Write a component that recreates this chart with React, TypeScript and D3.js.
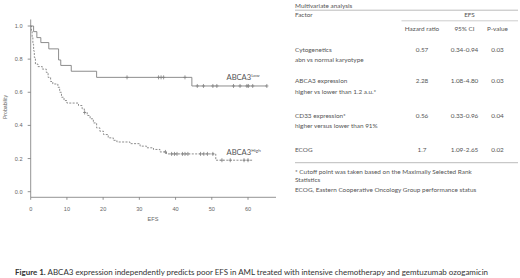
import React from "react";
import * as d3 from "d3";

// Kaplan-Meier steps (time, survival)
const lowTimes = [0, 0.8, 1.7, 2.8, 5.0, 7.7, 8.3, 11.2, 18.2, 44.5];
const lowSurv = [1.0, 0.966, 0.93, 0.9, 0.862, 0.795, 0.762, 0.727, 0.69, 0.638];
const lowEnd = 65.2;
const lowCensor = [26.6, 35.3, 36.0, 36.7, 42.6, 46.0, 47.7, 50.3, 51.4, 56.0, 57.8, 59.7, 60.1, 61.3, 65.2];

const highTimes = [0, 0.2, 0.4, 0.6, 0.8, 1.0, 1.3, 2.0, 3.2, 4.3, 4.8, 5.5, 6.1, 7.5, 8.0, 8.5, 9.2, 10.0, 13.2, 14.2, 14.8, 15.6, 16.4, 17.3, 18.2, 19.1, 20.1, 21.4, 22.8, 23.8, 27.4, 30.2, 32.0, 33.9, 35.7, 37.5, 51.1];
const highSurv = [1.0, 0.97, 0.93, 0.89, 0.85, 0.81, 0.77, 0.755, 0.74, 0.72, 0.69, 0.665, 0.65, 0.63, 0.6, 0.57, 0.55, 0.535, 0.52, 0.5, 0.478, 0.46, 0.44, 0.415, 0.385, 0.365, 0.345, 0.325, 0.31, 0.3, 0.29, 0.275, 0.265, 0.255, 0.24, 0.228, 0.19];
const highEnd = 61.2;
const highCensor = [14.9, 37.2, 38.9, 39.7, 40.4, 41.9, 42.6, 43.4, 46.9, 47.8, 48.8, 50.3, 52.8, 55.1, 58.9, 60.0];

const xTicks = [0, 10, 20, 30, 40, 50, 60];
const yTicks = [0, 0.2, 0.4, 0.6, 0.8, 1.0];

// Table
const tableTitle = "Multivariate analysis";
const factorNames = ["Cytogenetics", "ABCA3 expression", "CD33 expression*", "ECOG"];
const factorDetails = ["abn vs normal karyotype", "higher vs lower than 1.2 a.u.*", "higher versus lower than 91%", ""];
const hazardRatios = ["0.57", "2.28", "0.56", "1.7"];
const cis = ["0.34-0.94", "1.08-4.80", "0.33-0.96", "1.09-2.65"];
const pValues = ["0.03", "0.03", "0.04", "0.02"];
const footnotes = [
  "* Cutoff point was taken based on the Maximally Selected Rank",
  "Statistics",
  "ECOG, Eastern Cooperative Oncology Group performance status",
];
const captionBold = "Figure 1.";
const captionText = " ABCA3 expression independently predicts poor EFS in AML treated with intensive chemotherapy and gemtuzumab ozogamicin";

function survAt(times: number[], surv: number[], t: number) {
  let s = surv[0];
  for (let i = 0; i < times.length; i++) if (times[i] <= t) s = surv[i];
  return s;
}

export default function App() {
  const x = d3.scaleLinear().domain([0, 60]).range([30.7, 248]);
  const y = d3.scaleLinear().domain([0, 1]).range([191.7, 26]);
  const line = d3
    .line<[number, number]>()
    .x((d) => x(d[0]))
    .y((d) => y(d[1]))
    .curve(d3.curveStepAfter);

  const lowPts: [number, number][] = lowTimes.map((t, i) => [t, lowSurv[i]]);
  lowPts.push([lowEnd, lowSurv[lowSurv.length - 1]]);
  const highPts: [number, number][] = highTimes.map((t, i) => [t, highSurv[i]]);
  highPts.push([highEnd, highSurv[highSurv.length - 1]]);

  const axisColor = "#777";
  const curveColor = "#808080";
  const chartFont = "'Liberation Sans', Arial, sans-serif";
  const tableFont = "Lato, 'Open Sans', sans-serif";
  const textColor = "#555";

  const censorMark = (cx: number, cy: number, k: string, dash?: boolean) => (
    <g key={k} stroke={curveColor} strokeWidth={0.8}>
      <line x1={cx} x2={cx} y1={cy - 2} y2={cy + 2} />
      <line x1={cx - 1.6} x2={cx + 1.6} y1={cy} y2={cy} />
    </g>
  );

  const axisY = 197.3;
  const groupY = [49.5, 81, 115.5, 149.3];
  const colHR = 422;
  const colCI = 464.5;
  const colP = 497.5;

  return (
    <svg
      width={520}
      height={278}
      style={{ position: "absolute", left: 0, top: 0, background: "#fff" }}
    >
      <rect width={520} height={278} fill="#fff" />
      {/* axes */}
      <g stroke={axisColor} strokeWidth={0.8} fill="none">
        <line x1={x(0)} x2={x(0)} y1={19.5} y2={axisY} />
        <line x1={x(0)} x2={276} y1={axisY} y2={axisY} />
        {yTicks.map((t) => (
          <line key={"yt" + t} x1={x(0) - 3} x2={x(0)} y1={y(t)} y2={y(t)} />
        ))}
        {xTicks.map((t) => (
          <line key={"xt" + t} x1={x(t)} x2={x(t)} y1={axisY} y2={axisY + 2.5} />
        ))}
      </g>
      <g fill="#666" fontFamily={chartFont} fontSize={5.6}>
        {yTicks.map((t) => (
          <text key={"yl" + t} x={22.5} y={y(t)} dy="0.35em" textAnchor="end">
            {t.toFixed(1)}
          </text>
        ))}
        {xTicks.map((t) => (
          <text key={"xl" + t} x={x(t)} y={210.5} textAnchor="middle">
            {t}
          </text>
        ))}
        <text x={153} y={221} textAnchor="middle">EFS</text>
        <text
          transform={`translate(6.5,107) rotate(-90)`}
          textAnchor="middle"
          fontSize={5.2}
        >
          Probability
        </text>
      </g>

      {/* curves */}
      <path d={line(lowPts) || ""} fill="none" stroke={curveColor} strokeWidth={0.9} />
      <path
        d={line(highPts) || ""}
        fill="none"
        stroke={curveColor}
        strokeWidth={0.9}
        strokeDasharray="2,1.4"
      />
      {lowCensor.map((t, i) => censorMark(x(t), y(survAt(lowTimes, lowSurv, t)), "lc" + i))}
      {highCensor.map((t, i) => censorMark(x(t), y(survAt(highTimes, highSurv, t)), "hc" + i))}

      {/* curve labels */}
      <g fill="#555" fontFamily={tableFont} fontSize={7.6}>
        <text x={226.5} y={79.8}>
          ABCA3<tspan fontSize={4.6} dy={-3}>Low</tspan>
        </text>
        <text x={226.5} y={155.3}>
          ABCA3<tspan fontSize={4.6} dy={-3}>High</tspan>
        </text>
      </g>

      {/* table */}
      <g fontFamily={tableFont} fontSize={6.4} fill={textColor}>
        <text x={295} y={8.3}>{tableTitle}</text>
        <line x1={295} x2={518} y1={10.2} y2={10.2} stroke="#aaa" strokeWidth={0.8} />
        <text x={295} y={17.3}>Factor</text>
        <text x={469.5} y={17.3} textAnchor="middle">EFS</text>
        <line x1={401.5} x2={518} y1={20.8} y2={20.8} stroke="#aaa" strokeWidth={0.6} />
        <text x={colHR} y={30.5} textAnchor="middle">Hazard ratio</text>
        <text x={colCI} y={30.5} textAnchor="middle">95% CI</text>
        <text x={colP} y={30.5} textAnchor="middle">P-value</text>
        {factorNames.map((f, i) => (
          <g key={"f" + i}>
            <text x={295} y={groupY[i] + 2.2}>{f}</text>
            {factorDetails[i] && (
              <text x={295} y={groupY[i] + 12.5}>{factorDetails[i]}</text>
            )}
            <text x={colHR} y={groupY[i] + 2.2} textAnchor="middle">{hazardRatios[i]}</text>
            <text x={colCI} y={groupY[i] + 2.2} textAnchor="middle">{cis[i]}</text>
            <text x={colP} y={groupY[i] + 2.2} textAnchor="middle">{pValues[i]}</text>
          </g>
        ))}
        <line x1={295} x2={518} y1={162.7} y2={162.7} stroke="#aaa" strokeWidth={0.8} />
        <text x={295} y={174}>{footnotes[0]}</text>
        <text x={295} y={182.3}>{footnotes[1]}</text>
        <text x={295} y={191.6}>{footnotes[2]}</text>
      </g>

      {/* caption */}
      <text
        x={15}
        y={275.3}
        fontFamily={tableFont}
        fontSize={7.3}
        fill="#333"
        textLength={473}
        lengthAdjust="spacingAndGlyphs"
      >
        <tspan fontWeight="bold">{captionBold}</tspan>
        <tspan>{captionText}</tspan>
      </text>
    </svg>
  );
}
